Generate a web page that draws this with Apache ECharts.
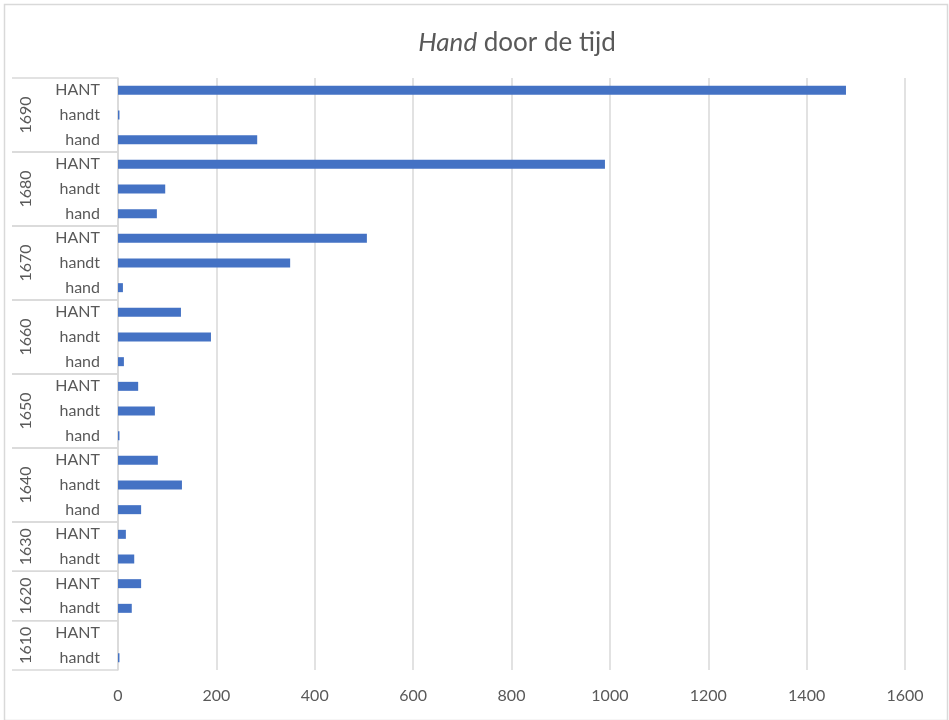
<!DOCTYPE html>
<html>
<head>
<meta charset="utf-8">
<script src="https://cdn.jsdelivr.net/npm/echarts@6/dist/echarts.min.js"></script>
<style>
html,body{margin:0;padding:0;background:#fff;}
#chart{width:949px;height:720px;}
</style>
</head>
<body>
<div id="chart"></div>
<script>
// Groups (bottom to top) and their sub-category labels
const groupYears = ['1610', '1620', '1630', '1640', '1650', '1660', '1670', '1680', '1690'];
const groupLabels = [
  ['handt', 'HANT'],
  ['handt', 'HANT'],
  ['handt', 'HANT'],
  ['hand', 'handt', 'HANT'],
  ['hand', 'handt', 'HANT'],
  ['hand', 'handt', 'HANT'],
  ['hand', 'handt', 'HANT'],
  ['hand', 'handt', 'HANT'],
  ['hand', 'handt', 'HANT']
];
// Values, same order (bottom to top)
const values = [
  3, 0,
  28, 47,
  33, 16,
  47, 130, 81,
  3, 75, 41,
  12, 189, 128,
  10, 350, 506,
  79, 96, 990,
  283, 3, 1480
];
const xTicks = { min: 0, max: 1600, interval: 200 };

// Build unique category keys
const categories = [];
const groups = [];
groupYears.forEach((y, gi) => {
  const start = categories.length;
  groupLabels[gi].forEach(l => categories.push(y + '|' + l));
  groups.push([0, start, categories.length - 1, gi]);
});

const TXT = '#595959';
const GRID = '#d9d9d9';
const FONT = 'Lato';

const chart = echarts.init(document.getElementById('chart'), null, { renderer: 'canvas' });
chart.setOption({
  backgroundColor: '#fff',
  animation: false,
  title: {
    text: '{i|Hand} door de tijd',
    left: 512,
    textAlign: 'center',
    top: 25,
    textStyle: {
      fontFamily: FONT, fontSize: 26, fontWeight: 'normal', color: TXT,
      rich: { i: { fontFamily: FONT, fontSize: 26, fontStyle: 'italic', color: TXT } }
    }
  },
  graphic: [{
    type: 'rect', left: 2, top: 2, shape: { width: 943, height: 716 },
    style: { fill: 'none', stroke: GRID, lineWidth: 1.5 }, silent: true, z: -1
  }],
  grid: { left: 118, right: 44, top: 78, bottom: 50, containLabel: false },
  xAxis: {
    type: 'value', min: xTicks.min, max: xTicks.max, interval: xTicks.interval,
    axisLine: { show: false }, axisTick: { show: false },
    splitLine: { lineStyle: { color: GRID, width: 1.5 } },
    axisLabel: { color: TXT, fontFamily: FONT, fontSize: 16, margin: 18, formatter: v => String(v) }
  },
  yAxis: {
    type: 'category', data: categories,
    axisTick: { show: false },
    axisLine: { lineStyle: { color: GRID, width: 1.5 } },
    axisLabel: {
      color: TXT, fontFamily: FONT, fontSize: 16, margin: 18, interval: 0,
      formatter: v => v.split('|')[1]
    }
  },
  series: [{
    type: 'bar', data: values, barWidth: 9,
    itemStyle: { color: '#4472C4' }
  }, {
    type: 'custom', data: groups, encode: { x: 0, y: 1 }, clip: false, z: 5,
    renderItem: (params, api) => {
      const s = api.value(1), e = api.value(2), gi = api.value(3);
      const band = api.size([0, 1])[1];
      const p0 = api.coord([0, s]);
      const p1 = api.coord([0, e]);
      const x0 = p0[0];
      const yLow = p0[1] + band / 2;
      const yHigh = p1[1] - band / 2;
      return {
        type: 'group',
        children: [
          { type: 'line', shape: { x1: x0 - 106, y1: yLow, x2: x0, y2: yLow }, style: { stroke: GRID, lineWidth: 1.5 } },
          { type: 'line', shape: { x1: x0 - 106, y1: yHigh, x2: x0, y2: yHigh }, style: { stroke: GRID, lineWidth: 1.5 } },
          { type: 'text', x: x0 - 92, y: (yLow + yHigh) / 2, rotation: Math.PI / 2,
            style: { text: groupYears[gi], fill: TXT, font: '16px ' + FONT, align: 'center', verticalAlign: 'middle' } }
        ]
      };
    }
  }]
});
</script>
</body>
</html>
